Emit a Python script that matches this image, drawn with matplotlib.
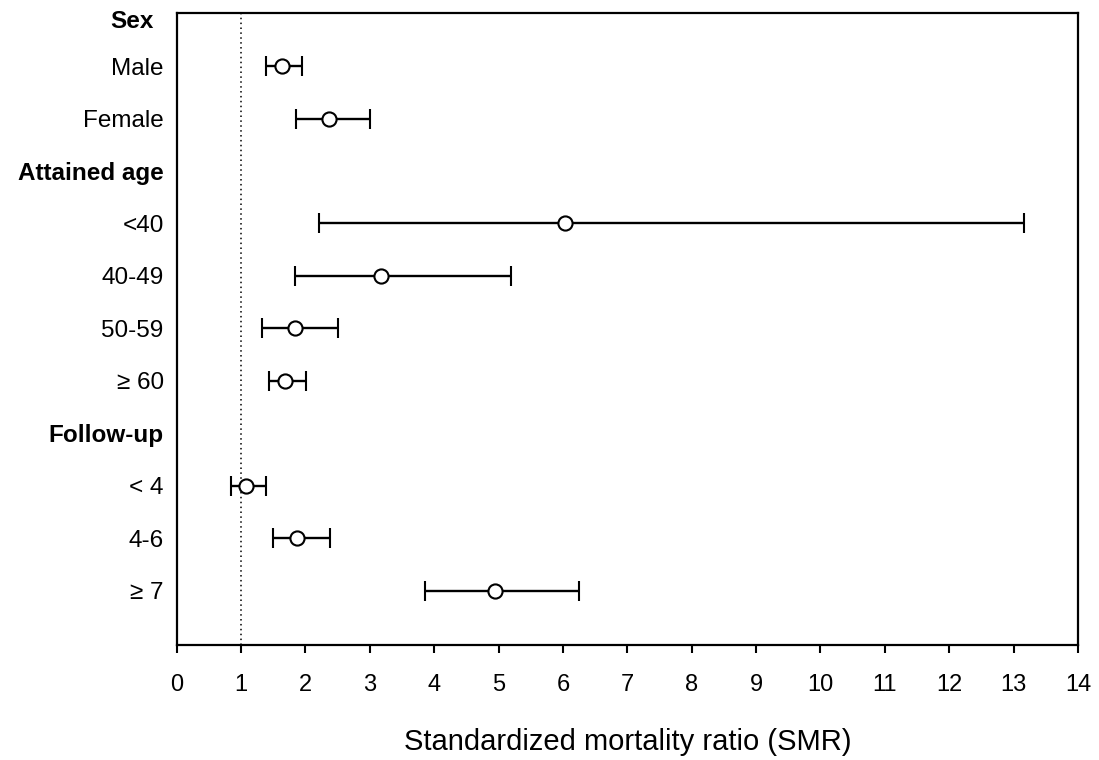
import matplotlib
matplotlib.use("Agg")
import matplotlib.pyplot as plt
import matplotlib.transforms as mtransforms
import numpy as np

plt.rcParams['font.family'] = ['Liberation Sans', 'DejaVu Sans']

# Data
groups = ["Sex", "Attained age", "Follow-up"]
categories = ["Male", "Female", "<40", "40-49", "50-59", "≥ 60", "< 4", "4-6", "≥ 7"]
group_of = [0, 0, 1, 1, 1, 1, 2, 2, 2]
smr = [1.64, 2.36, 6.03, 3.18, 1.83, 1.68, 1.08, 1.87, 4.94]
ci_low = [1.39, 1.85, 2.21, 1.83, 1.32, 1.44, 0.84, 1.49, 3.86]
ci_high = [1.94, 3.01, 13.17, 5.20, 2.50, 2.01, 1.38, 2.38, 6.25]
xticks = list(range(0, 15))

# Build row positions: each group header takes one row, then its categories
rows_y = []
header_y = []
r = 0
for g in range(len(groups)):
    header_y.append(r)
    r += 1
    for i, gi in enumerate(group_of):
        if gi == g:
            rows_y.append(r)
            r += 1
header_y[0] = 0.15  # top header sits at the top edge

fig = plt.figure(figsize=(10.99, 7.60), dpi=100)
ax = fig.add_axes([0.1608, 0.1513, 0.8200, 0.8316])

smr_a = np.array(smr)
err = np.vstack([smr_a - np.array(ci_low), np.array(ci_high) - smr_a])
ax.errorbar(smr, rows_y, xerr=err, fmt='o', color='black', ecolor='black',
            elinewidth=1.7, capsize=7.2, capthick=1.8,
            markersize=10.2, markerfacecolor='white', markeredgecolor='black',
            markeredgewidth=1.5, zorder=3)

ax.axvline(1, color='black', linestyle=(0, (1, 2.2)), linewidth=1.1, zorder=1)

ax.set_xlim(0, 14)
ax.set_ylim(12.03, -0.01)
ax.set_xticks(xticks)
ax.set_xticklabels([str(t) for t in xticks], fontsize=17)
ax.tick_params(axis='x', direction='out', length=6, width=1.5, pad=15)

yt = list(header_y[1:]) + list(rows_y)
yl = list(groups[1:]) + list(categories)
ax.set_yticks(yt)
ax.set_yticklabels(yl, fontsize=17.5)
ax.tick_params(axis='y', length=0, pad=9.4)
for lbl in ax.get_yticklabels():
    if lbl.get_text() in groups:
        lbl.set_fontweight('bold')

# first header, set slightly further left
trans = mtransforms.blended_transform_factory(ax.transAxes, ax.transData)
trans = trans + mtransforms.ScaledTranslation(-23 / 100, 0, fig.dpi_scale_trans)
ax.text(0, header_y[0], groups[0], transform=trans, ha='right', va='center',
        fontsize=17.5, fontweight='bold', clip_on=False)

for s in ax.spines.values():
    s.set_linewidth(1.6)

ax.set_xlabel("Standardized mortality ratio (SMR)", fontsize=21, labelpad=23)

fig.savefig("out.png", dpi=100)
